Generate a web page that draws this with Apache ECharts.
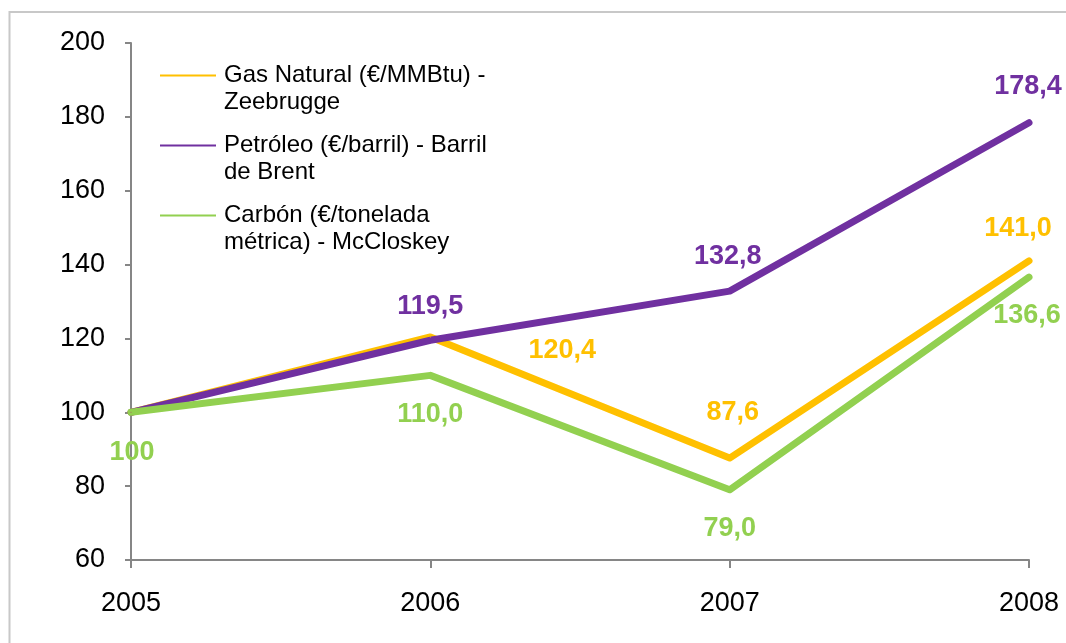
<!DOCTYPE html>
<html>
<head>
<meta charset="utf-8">
<script src="https://cdn.jsdelivr.net/npm/echarts@6/dist/echarts.min.js"></script>
<style>
  html, body { margin: 0; padding: 0; background: #fff; }
  #chart { width: 1066px; height: 643px; }
</style>
</head>
<body>
<div id="chart"></div>
<script>
// datos
var years = ['2005', '2006', '2007', '2008'];
var seriesNames = [
    'Gas Natural (€/MMBtu) -\nZeebrugge',
    'Petróleo (€/barril) - Barril\nde Brent',
    'Carbón (€/tonelada\nmétrica) - McCloskey'
];
var gasValues = [100, 120.4, 87.6, 141.0];
var petroleoValues = [100, 119.5, 132.8, 178.4];
var carbonValues = [100, 110.0, 79.0, 136.6];
var yTicks = [60, 80, 100, 120, 140, 160, 180, 200];

var colors = ['#FFC000', '#7030A0', '#92D050'];
var FONT = '"Liberation Sans", Arial, sans-serif';

// desplazamiento de cada etiqueta (null = sin etiqueta)
var gasOffsets = [null, [132, 14], [3, -46], [-11, -32]];
var petroleoOffsets = [null, [0, -34], [-2, -35], [-1, -36]];
var carbonOffsets = [[1, 40], [0, 39], [0, 39], [-2, 38]];

function fmt(v) {
    return v === 100 ? '100' : v.toFixed(1).replace('.', ',');
}

function buildData(values, offsets) {
    return values.map(function (v, i) {
        var off = offsets[i];
        return {
            value: v,
            label: off ? { show: true, offset: off } : { show: false }
        };
    });
}

function makeSeries(name, values, offsets, color) {
    return {
        name: name,
        type: 'line',
        data: buildData(values, offsets),
        symbol: 'circle',
        symbolSize: 1,
        showSymbol: true,
        color: color,
        itemStyle: { color: color },
        lineStyle: { color: color, width: 7, cap: 'round', join: 'round' },
        label: {
            position: 'inside',
            color: color,
            fontFamily: FONT,
            fontWeight: 'bold',
            fontSize: 27,
            formatter: function (p) { return fmt(p.value); }
        },
        emphasis: { disabled: true },
        animation: false
    };
}

var chart = echarts.init(document.getElementById('chart'));

chart.setOption({
    backgroundColor: '#fff',
    graphic: [{
        type: 'rect',
        shape: { x: 9.5, y: 12, width: 1200, height: 800 },
        style: { fill: 'none', stroke: '#C8C8C8', lineWidth: 2 },
        silent: true
    }],
    grid: { left: 131, right: 37, top: 43, bottom: 83 },
    legend: {
        orient: 'vertical',
        left: 160,
        top: 35,
        padding: 0,
        itemGap: -11,
        itemWidth: 56,
        itemHeight: 2,
        icon: 'rect',
        selectedMode: false,
        data: seriesNames,
        // línea vacía delante para que el icono quede a la altura de la primera línea
        formatter: function (name) { return '\n' + name; },
        textStyle: {
            color: '#000',
            fontFamily: FONT,
            fontSize: 24,
            lineHeight: 27,
            padding: [0, 0, 0, 3]
        }
    },
    xAxis: {
        type: 'category',
        data: years,
        boundaryGap: false,
        axisLine: { lineStyle: { color: '#868686', width: 2 } },
        axisTick: { alignWithLabel: true, length: 8, lineStyle: { color: '#868686', width: 2 } },
        axisLabel: { color: '#000', fontFamily: FONT, fontSize: 27, margin: 30 },
        splitLine: { show: false }
    },
    yAxis: {
        type: 'value',
        min: yTicks[0],
        max: yTicks[yTicks.length - 1],
        interval: 20,
        axisLine: { show: true, lineStyle: { color: '#868686', width: 2 } },
        axisTick: { show: true, length: 6, lineStyle: { color: '#868686', width: 2 } },
        axisLabel: { color: '#000', fontFamily: FONT, fontSize: 27, margin: 26 },
        splitLine: { show: false }
    },
    series: [
        makeSeries(seriesNames[0], gasValues, gasOffsets, colors[0]),
        makeSeries(seriesNames[1], petroleoValues, petroleoOffsets, colors[1]),
        makeSeries(seriesNames[2], carbonValues, carbonOffsets, colors[2])
    ]
});
</script>
</body>
</html>
